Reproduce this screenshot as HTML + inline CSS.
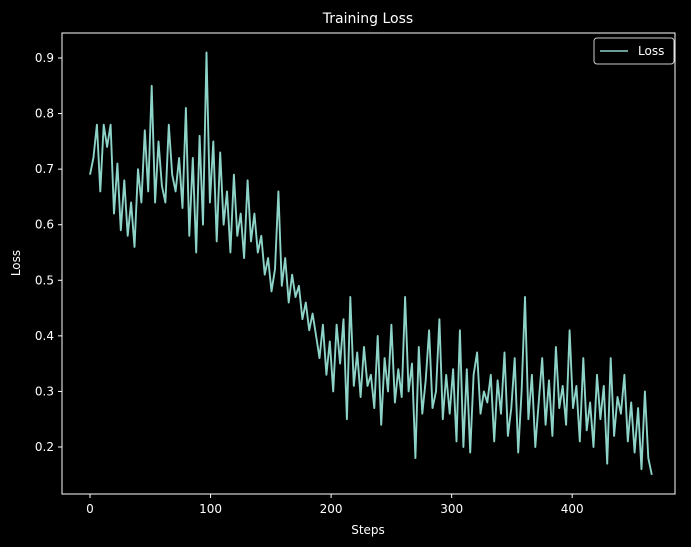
<!DOCTYPE html>
<html><head><meta charset="utf-8"><style>
body{margin:0;background:#000;}
svg{display:block;font-family:"DejaVu Sans","Liberation Sans",sans-serif;}
</style></head><body>
<svg id="chart" width="691" height="547">
<rect width="691" height="547" fill="#000"/>
<text x="368" y="23" fill="#fff" font-size="14" text-anchor="middle">Training Loss</text>
<text x="368" y="534" fill="#fff" font-size="12" text-anchor="middle">Steps</text>
<text x="20" y="263" fill="#fff" font-size="12" text-anchor="middle" transform="rotate(-90 20 263)">Loss</text>
<g id="xticks"></g>
<g id="yticks"></g>
<path id="line" fill="none" stroke="#8dd3c7" stroke-width="1.9" stroke-linejoin="round"/>
<rect x="62" y="33" width="613" height="461" fill="none" stroke="#fff" stroke-width="1"/>
<g>
<rect x="594" y="38" width="80" height="26" rx="3" fill="#000" stroke="#ccc" stroke-width="1"/>
<line x1="600" y1="51" x2="628" y2="51" stroke="#8dd3c7" stroke-width="1.5"/>
<text x="638" y="55" fill="#fff" font-size="12">Loss</text>
</g>
</svg>
<script>
const xTicks=[0,100,200,300,400];
const yTicks=[0.2,0.3,0.4,0.5,0.6,0.7,0.8,0.9];
const lastStep=466;
const losses=[
0.69,0.72,0.78,0.66,0.78,0.74,0.78,
0.62,0.71,0.59,0.68,0.58,0.64,0.56,
0.70,0.64,0.77,0.66,0.85,0.64,0.75,
0.67,0.64,0.78,0.69,0.66,0.72,0.63,
0.81,0.58,0.72,0.55,0.76,0.60,0.91,
0.64,0.75,0.57,0.73,0.60,0.66,0.55,
0.69,0.58,0.62,0.54,0.68,0.57,0.62,
0.55,0.58,0.51,0.54,0.48,0.52,0.66,
0.49,0.54,0.46,0.51,0.47,0.49,0.43,
0.46,0.41,0.44,0.40,0.36,0.42,0.33,
0.39,0.30,0.42,0.35,0.43,0.25,0.47,
0.31,0.37,0.29,0.38,0.31,0.33,0.27,
0.40,0.24,0.36,0.30,0.42,0.28,0.34,
0.29,0.47,0.30,0.35,0.18,0.38,0.26,
0.32,0.41,0.27,0.30,0.43,0.25,0.33,
0.26,0.34,0.21,0.41,0.20,0.34,0.19,
0.33,0.37,0.26,0.30,0.28,0.33,0.21,
0.32,0.26,0.37,0.22,0.27,0.36,0.19,
0.30,0.47,0.25,0.33,0.20,0.28,0.36,
0.24,0.32,0.22,0.38,0.27,0.31,0.24,
0.41,0.27,0.31,0.21,0.36,0.23,0.28,
0.20,0.33,0.25,0.31,0.17,0.36,0.22,
0.29,0.26,0.33,0.21,0.28,0.19,0.27,
0.16,0.30,0.18,0.15];
const NS="http://www.w3.org/2000/svg";
function xs(v){return 90+v*1.2055;}
function ys(v){return 447-(v-0.2)*555.7;}
const xg=document.getElementById('xticks'),yg=document.getElementById('yticks');
xTicks.forEach(t=>{
 const l=document.createElementNS(NS,'line');
 l.setAttribute('x1',xs(t));l.setAttribute('x2',xs(t));l.setAttribute('y1',494);l.setAttribute('y2',498);l.setAttribute('stroke','#fff');
 
 
 xg.appendChild(l);
 const tx=document.createElementNS(NS,'text');
 tx.setAttribute('x',xs(t));tx.setAttribute('y',513);tx.setAttribute('fill','#fff');tx.setAttribute('font-size','12');tx.setAttribute('text-anchor','middle');
 tx.textContent=t;
 
 
 xg.appendChild(tx);
});
yTicks.forEach(t=>{
 const l=document.createElementNS(NS,'line');
 l.setAttribute('x1',58);l.setAttribute('x2',62);l.setAttribute('y1',ys(t));l.setAttribute('y2',ys(t));l.setAttribute('stroke','#fff');
 
 
 yg.appendChild(l);
 const tx=document.createElementNS(NS,'text');
 tx.setAttribute('x',54);tx.setAttribute('y',ys(t)+4);tx.setAttribute('fill','#fff');tx.setAttribute('font-size','12');tx.setAttribute('text-anchor','end');
 tx.textContent=t.toFixed(1);
 
 
 yg.appendChild(tx);
});
const n=losses.length;
let d='';
losses.forEach((v,i)=>{const s=i*lastStep/(n-1);d+=(i?'L':'M')+xs(s).toFixed(1)+','+ys(v).toFixed(1);});
document.getElementById('line').setAttribute('d',d);
</script>
</body></html>
